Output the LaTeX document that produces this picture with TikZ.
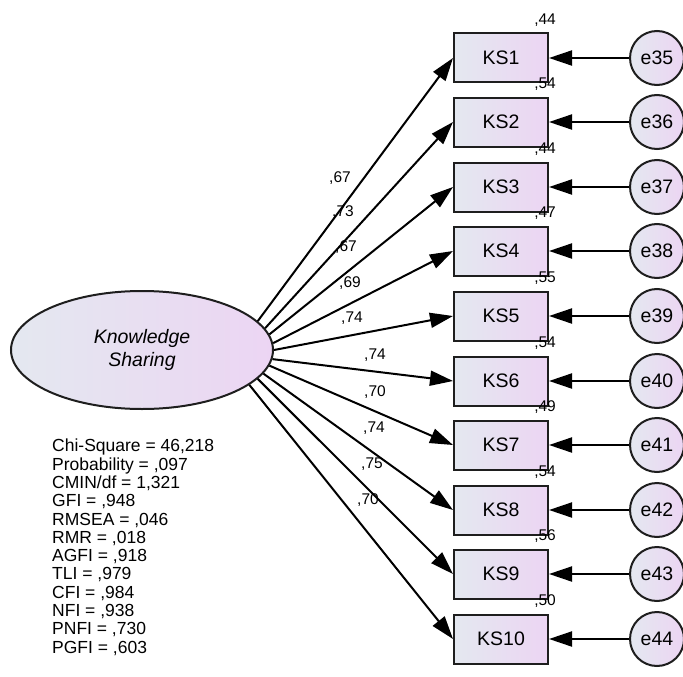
\documentclass[tikz,border=0pt]{standalone}
\usepackage{fontspec}
\setmainfont{Liberation Sans}
\usetikzlibrary{arrows.meta,calc,positioning,shapes.geometric}
\definecolor{shadeleft}{RGB}{228,232,240}
\definecolor{shaderight}{RGB}{236,213,243}
\definecolor{edgegray}{RGB}{30,30,30}

\begin{document}
\begin{tikzpicture}[x=1pt,y=-1pt,
  obsbox/.style={draw=edgegray,line width=2pt,left color=shadeleft,right color=shaderight,minimum width=94pt,minimum height=49pt,inner sep=0pt,font=\fontsize{19.5}{21}\selectfont},
  errcirc/.style={circle,draw=edgegray,line width=2pt,left color=shadeleft,right color=shaderight,minimum size=54pt,inner sep=0pt,font=\fontsize{19.5}{21}\selectfont},
  latent/.style={ellipse,draw=edgegray,line width=2pt,left color=shadeleft,right color=shaderight,minimum width=262pt,minimum height=118pt,inner sep=0pt,align=center,font=\fontsize{19.5}{23}\selectfont\itshape},
  regarrow/.style={line width=2pt,-{Triangle[length=23pt,width=15pt]}},
  estim/.style={inner sep=0pt,font=\fontsize{15.5}{15.5}\selectfont},
]
  \useasboundingbox (0,0) rectangle (683,677);
  \node[latent] (ks) at (142,350) {Knowledge\\Sharing};
  \foreach \i/\e/\l/\r/\lx/\ly in {1/35/67/44/340/178, 2/36/73/54/343/212, 3/37/67/44/346/247, 4/38/69/47/350/283, 5/39/74/55/352/318, 6/40/74/54/375/355, 7/41/70/49/375/392, 8/42/74/54/374/428, 9/43/75/56/372/464, 10/44/70/50/368/500}{
    \pgfmathtruncatemacro{\cy}{round(57.5+64.6*(\i-1))}
    \pgfmathtruncatemacro{\a}{mod(374-3.5*(\i-1),360)}
    \node[obsbox] (ks\i) at (501,\cy) {KS\i};
    \node[errcirc] (e\e) at (657,\cy) {e\e};
    \node[estim,anchor=base east] (r\i) at ($(ks\i.north east)+(7,-8)$) {,\r};
    \node[estim] (c\i) at (\lx,\ly) {,\l};
    \draw[regarrow] (e\e) -- (ks\i);
    \draw[regarrow] (ks.\a) -- (ks\i.west);
  }
  \node[anchor=north west,inner sep=0pt,align=left,font=\fontsize{17.5}{18.3}\selectfont] (stats) at (52,439) {Chi-Square = 46,218\\Probability = ,097\\CMIN/df = 1,321\\GFI = ,948\\RMSEA = ,046\\RMR = ,018\\AGFI = ,918\\TLI = ,979\\CFI = ,984\\NFI = ,938\\PNFI = ,730\\PGFI = ,603};
\end{tikzpicture}
\end{document}
